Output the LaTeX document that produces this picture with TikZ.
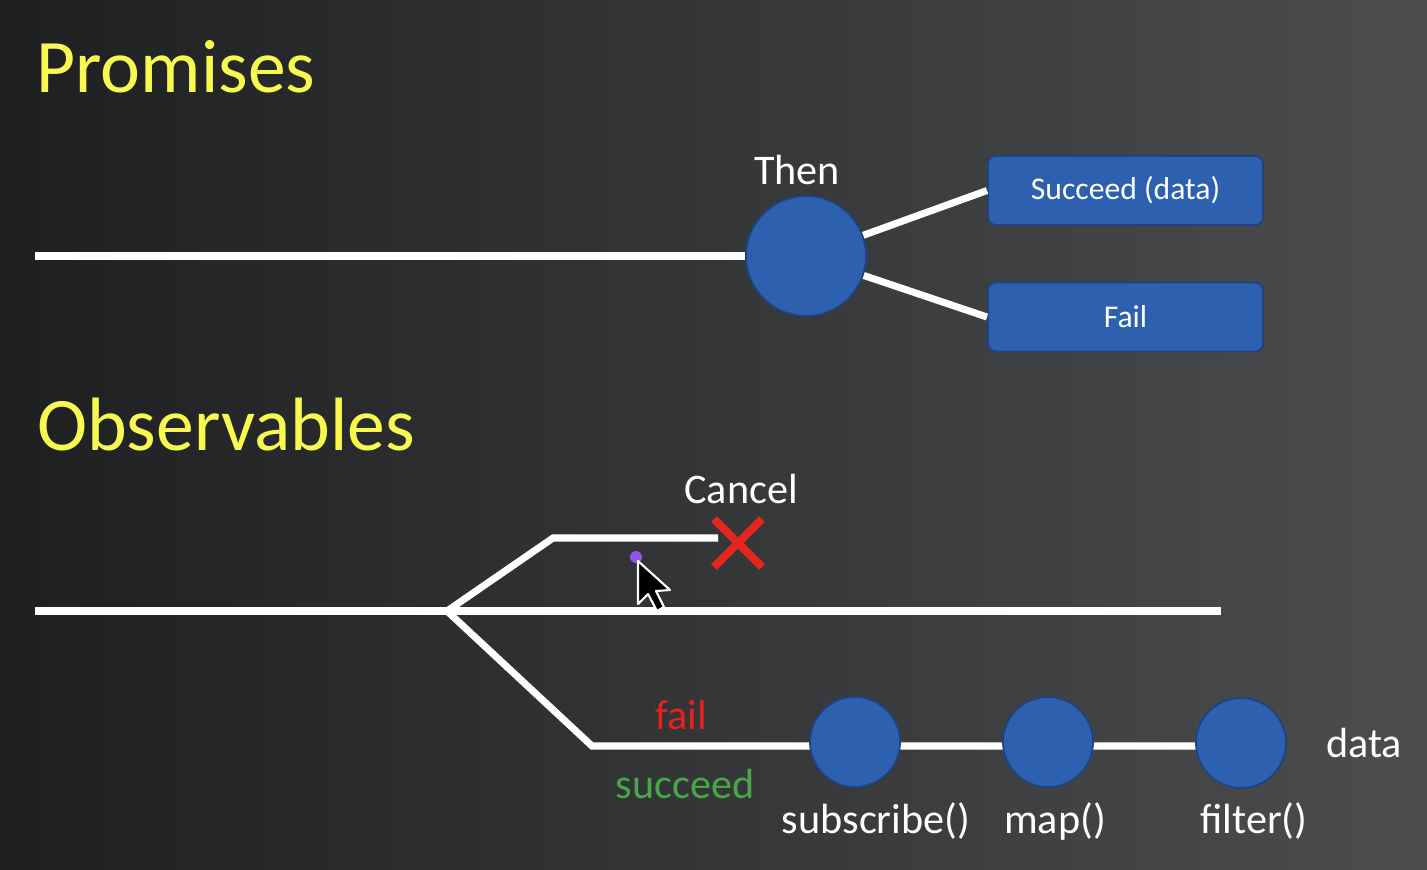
\documentclass[tikz,border=0pt]{standalone}
\usepackage{fontspec}
\setmainfont{Carlito}
\definecolor{bgleft}{RGB}{30,31,33}
\definecolor{bgright}{RGB}{76,77,79}
\definecolor{titleyellow}{RGB}{248,250,80}
\definecolor{ballblue}{RGB}{46,96,176}
\definecolor{balledge}{RGB}{30,66,130}
\definecolor{crossred}{RGB}{228,38,30}
\definecolor{failred}{RGB}{232,32,30}
\definecolor{okgreen}{RGB}{72,168,72}
\definecolor{dotpurple}{RGB}{150,80,235}
\tikzset{
  track/.style={line width=2pt,white},
  ball/.style={circle,fill=ballblue,draw=balledge,line width=0.5pt,inner sep=0pt},
  resultbox/.style={rectangle,rounded corners=0.08cm,fill=ballblue,draw=balledge,line width=0.5pt,
    minimum width=2.75cm,minimum height=0.69cm,text=white,font=\fontsize{9}{11}\selectfont},
  title/.style={anchor=base,text=titleyellow,font=\fontsize{21.5}{24}\selectfont,inner sep=0pt},
  label/.style={anchor=base,text=white,font=\fontsize{12}{14}\selectfont,inner sep=0pt}
}
\begin{document}
\begin{tikzpicture}[x=0.01cm,y=-0.01cm]
  \useasboundingbox (0,0) rectangle (1427,869);
  \shade[left color=bgleft,right color=bgright] (0,0) rectangle (1427,869);
  % promises
  \node[title] (promises) at (176,92) {Promises};
  \node[ball,minimum size=1.2cm] (then) at (806,256) {};
  \node[label] (thenlbl) at (797,184) {Then};
  \node[resultbox] (succ) at (1125.5,190.5) {Succeed (data)};
  \node[resultbox] (fail) at (1125.5,317) {Fail};
  \coordinate (pstart) at (35,256);
  \draw[track] (pstart) -- (then);
  \draw[track] (then) -- (succ.west);
  \draw[track] (then) -- (fail.west);
  % observables
  \node[title] (observables) at (226,450) {Observables};
  \coordinate (ostart) at (35,611);
  \coordinate (oend) at (1221,611);
  \coordinate (fork) at (447,611);
  \coordinate (upknee) at (553,538);
  \coordinate (upend) at (718,538);
  \coordinate (lowknee) at (592,746);
  \coordinate (lowend) at (1220,746);
  \draw[track] (ostart) -- (oend);
  \draw[track] (fork) -- (upknee) -- (upend);
  \draw[track] (fork) -- (lowknee) -- (lowend);
  \node[ball,minimum size=0.9cm] (sub) at (855,742) {};
  \node[ball,minimum size=0.9cm] (map) at (1048,742) {};
  \node[ball,minimum size=0.9cm] (filt) at (1241,743) {};
  % cancel cross
  \coordinate (cross) at (738,543);
  \draw[crossred,line width=2.3pt] ([shift={(-24,-24)}]cross) -- ([shift={(24,24)}]cross);
  \draw[crossred,line width=2.3pt] ([shift={(-24,24)}]cross) -- ([shift={(24,-24)}]cross);
  \node[label] (cancellbl) at (741,503) {Cancel};
  \node[label,text=failred] (faillbl) at (681,729) {fail};
  \node[label,text=okgreen] (succlbl) at (685,798) {succeed};
  \node[label] (sublbl) at (876,833) {subscribe()};
  \node[label] (maplbl) at (1055,833) {map()};
  \node[label] (filtlbl) at (1254,833) {filter()};
  \node[label] (datalbl) at (1364,757) {data};
  % mouse pointer
  \fill[dotpurple] (636,557) circle (6);
  \coordinate (tip) at (638,561);
  \draw[white,fill=black,line width=0.6pt,line join=round]
    (tip) -- ++(0,43) -- ++(10,-10) -- ++(9,17) -- ++(7,-4) -- ++(-8,-16) -- ++(14,-1) -- cycle;
\end{tikzpicture}
\end{document}
